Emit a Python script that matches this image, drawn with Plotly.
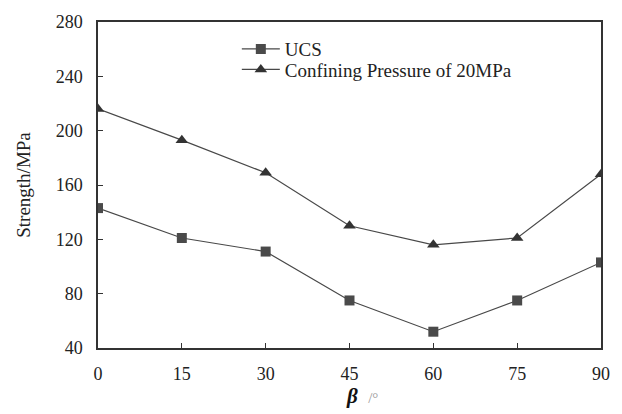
import plotly.graph_objects as go

beta = [0, 15, 30, 45, 60, 75, 90]
ucs = [143, 121, 111, 75, 52, 75, 103]
confined = [216, 193, 169, 130, 116, 121, 168]
series_names = ["UCS", "Confining Pressure of 20MPa"]

col = "#484848"
font = "Liberation Serif, Times New Roman, serif"

fig = go.Figure()
fig.add_trace(go.Scatter(x=beta, y=ucs, mode="lines+markers", name=series_names[0],
                         legend="legend",
                         line=dict(color=col, width=1.2),
                         marker=dict(symbol="square", size=10, color="#4a4a4a")))
fig.add_trace(go.Scatter(x=beta, y=confined, mode="lines+markers", name=series_names[1],
                         legend="legend2",
                         line=dict(color=col, width=1.2),
                         marker=dict(symbol="triangle-up", size=11, color="#333333")))

leg_common = dict(xanchor="left", yanchor="middle", bgcolor="rgba(0,0,0,0)",
                  font=dict(size=19, family=font, color="#222"), itemwidth=38)

fig.update_layout(
    width=622, height=414,
    margin=dict(l=98, r=20, t=17, b=64),
    paper_bgcolor="white", plot_bgcolor="white",
    font=dict(family=font, size=18, color="#222"),
    showlegend=True,
    legend=dict(x=0.276, y=0.917, **leg_common),
    legend2=dict(x=0.276, y=0.854, **leg_common),
    xaxis=dict(range=[0, 90], tickvals=beta, ticks="inside", ticklen=5,
               tickcolor="#333", showline=True, linecolor="#333", linewidth=1.5,
               mirror=True, showgrid=False, zeroline=False, ticklabelstandoff=9,
               tickfont=dict(size=18, family=font, color="#222"),
               title=dict(text="&nbsp;&nbsp;&nbsp;&nbsp;&nbsp;<b><i>β</i></b>  <span style='font-size:15px;color:#999'>/°</span>",
                          font=dict(size=21, family=font, color="#111"), standoff=3)),
    yaxis=dict(range=[40, 280], tickvals=[40, 80, 120, 160, 200, 240, 280], ticks="inside",
               ticklen=5, tickcolor="#333", showline=True, linecolor="#333", linewidth=1.5,
               mirror=True, showgrid=False, zeroline=False, ticklabelstandoff=10,
               tickfont=dict(size=18, family=font, color="#222"),
               title=dict(text="Strength/MPa", font=dict(size=19, family=font, color="#222"),
                          standoff=20)),
)

fig.write_html("out.html")
